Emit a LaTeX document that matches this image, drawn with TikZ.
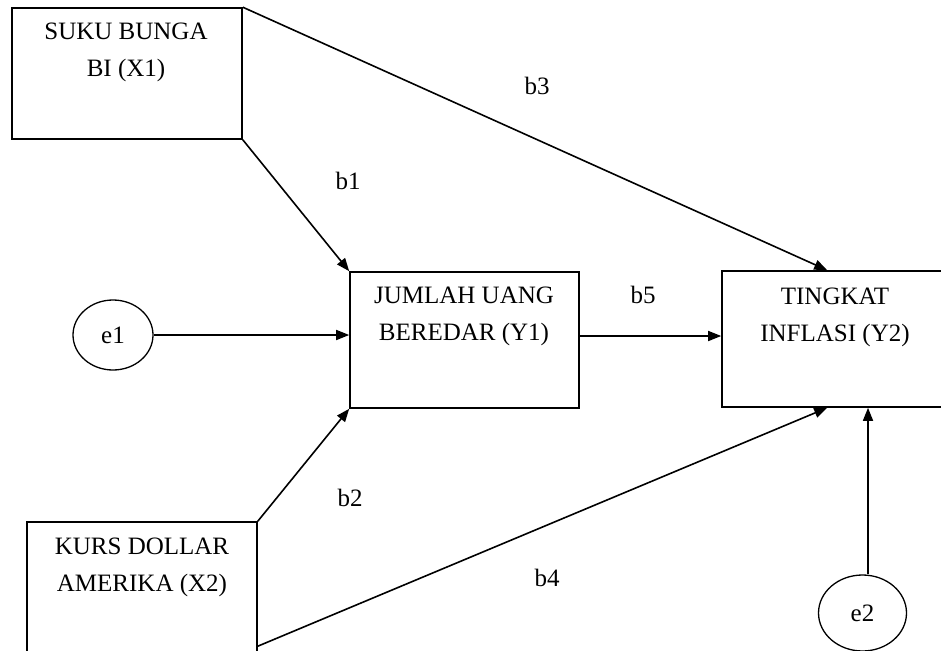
\documentclass[tikz,border=0pt]{standalone}
\usepackage{fontspec}
\setmainfont{Liberation Serif}
\usetikzlibrary{arrows.meta,shapes.geometric}
\begin{document}
\begin{tikzpicture}[x=1pt,y=-1pt,
  box/.style={draw,line width=1.6pt,rectangle,inner sep=0pt},
  txt/.style={align=center,font=\fontsize{25}{37}\selectfont,inner sep=0pt},
  lbl/.style={font=\fontsize{25}{29}\selectfont,inner sep=0pt},
  err/.style={draw,line width=1.3pt,ellipse,inner sep=0pt,font=\fontsize{25}{29}\selectfont},
  arr/.style={line width=1.6pt,-{Triangle[length=13pt,width=10pt]}}]
\useasboundingbox (0,0) rectangle (941,650);
\clip (0,0) rectangle (941,650);
\fill[white] (0,0) rectangle (941,650);
% boxes
\node[box,minimum width=230pt,minimum height=131pt] (x1) at (127,73.5) {};
\node[box,minimum width=230pt,minimum height=170pt] (x2) at (142,607) {};
\node[box,minimum width=229pt,minimum height=136pt] (y1) at (464.5,340) {};
\node[box,minimum width=258pt,minimum height=136pt] (y2) at (851,339) {};
% texts
\node[txt] (x1t) at (126,52) {SUKU BUNGA\\BI (X1)};
\node[txt] (x2t) at (142,567) {KURS DOLLAR\\AMERIKA (X2)};
\node[txt] (y1t) at (464,316) {JUMLAH UANG\\BEREDAR (Y1)};
\node[txt] (y2t) at (835,317) {TINGKAT\\INFLASI (Y2)};
% errors
\node[err,minimum width=80pt,minimum height=70pt] (e1) at (113,335) {e1};
\node[err,minimum width=88pt,minimum height=76pt] (e2) at (862.5,613) {e2};
% connectors
\draw[arr] (x1.south east) -- (y1.north west);
\draw[arr] (x2.north east) -- (y1.south west);
\draw[arr] (e1.east) -- (e1.east -| y1.west);
\draw[arr] ([yshift=4pt]y1.east) -- ([yshift=4pt]y1.east -| y2.west);
\draw[arr] (x1.north east) -- ([xshift=106pt]y2.north west);
\draw[arr] ([yshift=-125pt]x2.north east) -- ([xshift=106pt]y2.south west);
\draw[arr] ([xshift=5.5pt]e2.north) -- ([xshift=5.5pt]e2.north |- y2.south);
% labels
\node[lbl] (b1) at (348,181) {b1};
\node[lbl] (b3) at (537,86) {b3};
\node[lbl] (b5) at (643,295) {b5};
\node[lbl] (b2) at (350,498) {b2};
\node[lbl] (b4) at (547,578) {b4};
\end{tikzpicture}
\end{document}
